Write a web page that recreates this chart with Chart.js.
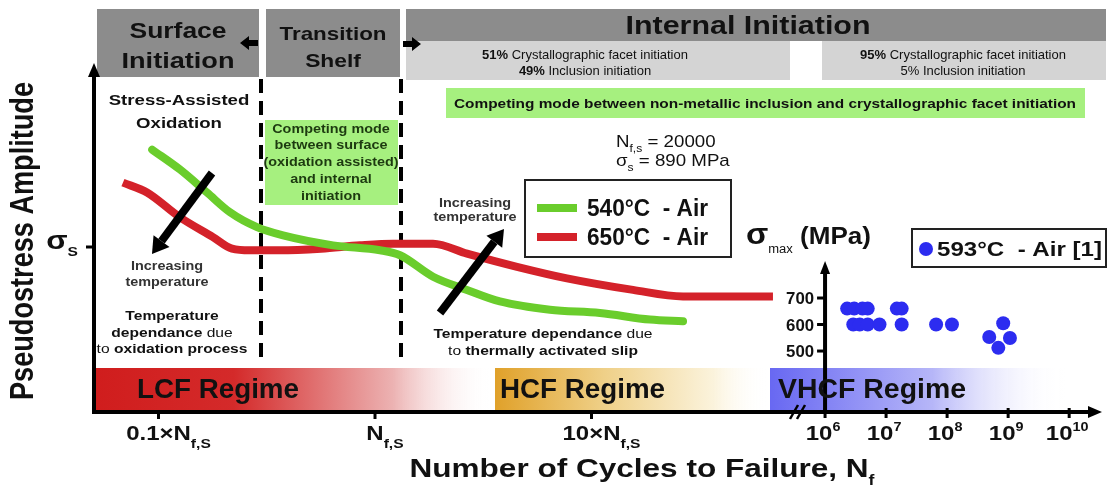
<!DOCTYPE html>
<html><head><meta charset="utf-8">
<script src="https://cdn.jsdelivr.net/npm/chart.js@4/dist/chart.umd.min.js"></script>
<style>html,body{margin:0;padding:0;background:#fff;overflow:hidden}</style>
</head><body>
<canvas id="c" width="1117" height="487"></canvas>
<script>
// ---------------- data ----------------
const NFS = 20000;        // N_f,s (cycles)
const SIGMA_S = 890;      // sigma_s (MPa)
// schematic pseudostress amplitude, normalised by sigma_s
const cycles540 = [1870, 2510, 3350, 4280, 5700, 7520, 12800, 21100, 26100, 37100, 53200, 75500, 128600, 218800, 372600, 529600];
const stress540 = [1.59, 1.47, 1.33, 1.21, 1.12, 1.07, 1.01, 0.98, 0.95, 0.82, 0.74, 0.67, 0.62, 0.60, 0.56, 0.55];
const cycles650 = [1370, 1770, 2510, 3570, 4370, 5300, 7280, 11270, 17050, 24220, 37080, 53220, 90570, 154100, 311000, 529600, 900500, 1378000];
const stress650 = [1.39, 1.33, 1.18, 1.06, 0.99, 0.98, 0.98, 0.99, 1.01, 1.02, 1.02, 0.96, 0.88, 0.81, 0.74, 0.70, 0.70, 0.70];
// 593 °C - Air [1]  (cycles, sigma_max MPa)
const cycles593 = [2.3e6, 3.0e6, 4.1e6, 5.0e6, 1.5e7, 1.8e7, 2.9e6, 3.7e6, 5.0e6, 7.8e6, 1.8e7, 6.6e7, 1.2e8, 8.3e8, 4.9e8, 6.9e8, 1.07e9];
const smax593   = [660, 660, 660, 660, 660, 660, 600, 600, 600, 600, 600, 600, 600, 605, 553, 512, 549];
// tick labels
const mainTickValues = [0.1 * NFS, NFS, 10 * NFS];
const mainTickLabels = ['0.1×N', 'N', '10×N'];
const insetTickExps = [6, 7, 8, 9, 10];
const insetYTicks = [500, 600, 700];
const seriesLabels = ['540°C  - Air', '650°C  - Air', '593°C  - Air [1]'];

// ---------------- helpers ----------------
const SX = 1.2;
const FF = '"Liberation Sans", Arial, sans-serif';
const B = s => 'bold ' + s + 'px ' + FF;
const R = s => s + 'px ' + FF;
function rich(ctx, runs, x, y, o = {}) {
  const align = o.align || 'center';
  ctx.save();
  ctx.fillStyle = o.color || '#111';
  ctx.textAlign = 'left'; ctx.textBaseline = 'alphabetic';
  const ws = runs.map(r => { ctx.font = r.f; return ctx.measureText(r.t).width; });
  const tot = ws.reduce((a, b) => a + b, 0);
  const k = o.w ? o.w / tot : (o.sx || SX);
  const start = align === 'center' ? x - tot * k / 2 : align === 'right' ? x - tot * k : x;
  ctx.translate(start, y); ctx.scale(k, 1);
  let cx = 0;
  runs.forEach((r, i) => { ctx.font = r.f; ctx.fillStyle = r.c || o.color || '#111'; ctx.fillText(r.t, cx, r.dy || 0); cx += ws[i]; });
  ctx.restore();
}
function txt(ctx, s, x, y, f, o = {}) { rich(ctx, [{ t: s, f }], x, y, o); }
function arrowLine(ctx, x1, y1, x2, y2, w, head) {
  const a = Math.atan2(y2 - y1, x2 - x1);
  const bx = x2 - head * Math.cos(a), by = y2 - head * Math.sin(a);
  ctx.save(); ctx.strokeStyle = '#000'; ctx.fillStyle = '#000'; ctx.lineWidth = w; ctx.lineCap = 'butt';
  ctx.beginPath(); ctx.moveTo(x1, y1); ctx.lineTo(bx, by); ctx.stroke();
  const hw = head * 0.62;
  ctx.beginPath(); ctx.moveTo(x2, y2);
  ctx.lineTo(bx + hw * Math.sin(a), by - hw * Math.cos(a));
  ctx.lineTo(bx - hw * Math.sin(a), by + hw * Math.cos(a));
  ctx.closePath(); ctx.fill(); ctx.restore();
}

// ---------------- background drawings ----------------
const bgPlugin = {
  id: 'bg',
  beforeDatasetsDraw(chart) {
    const ctx = chart.ctx;
    ctx.save();
    // header boxes
    ctx.fillStyle = '#8c8c8c';
    ctx.fillRect(97, 9, 162, 68);
    ctx.fillRect(266, 9, 134, 68);
    ctx.fillRect(406, 9, 700, 32);
    ctx.fillStyle = '#d4d4d4';
    ctx.fillRect(406, 41, 384, 39);
    ctx.fillRect(822, 41, 284, 39);
    // green boxes
    ctx.fillStyle = '#a6f07f';
    ctx.fillRect(446, 88, 639, 30);
    ctx.fillRect(265, 120, 133, 85);
    // regime bars
    const bars = [
      [95, 492, [[0, '#d01d1d'], [0.35, '#d42a2a'], [0.75, '#ecb2b2'], [1, 'rgba(255,255,255,0)']]],
      [495, 768, [[0, '#e0a12a'], [0.4, '#efd088'], [0.8, '#fbf3dc'], [1, 'rgba(255,255,255,0)']]],
      [770, 1065, [[0, '#6868f2'], [0.55, '#b6b6f8'], [1, 'rgba(255,255,255,0)']]]
    ];
    bars.forEach(([x0, x1, st]) => {
      const g = ctx.createLinearGradient(x0, 0, x1, 0);
      st.forEach(([p, c]) => g.addColorStop(p, c));
      ctx.fillStyle = g; ctx.fillRect(x0, 368, x1 - x0, 43);
    });
    // dashed dividers
    ctx.strokeStyle = '#000'; ctx.lineWidth = 4; ctx.setLineDash([14, 8]);
    [261, 401].forEach(x => { ctx.beginPath(); ctx.moveTo(x, 79); ctx.lineTo(x, 362); ctx.stroke(); });
    ctx.setLineDash([]);
    ctx.restore();
  }
};

// ---------------- foreground drawings ----------------
const fgPlugin = {
  id: 'fg',
  afterDatasetsDraw(chart) {
    const ctx = chart.ctx;
    const xs = chart.scales.x, xs2 = chart.scales.x2, ys = chart.scales.y, ys2 = chart.scales.y2;
    const ca = chart.chartArea;
    const x0 = ca.left, yb = ca.bottom;
    ctx.save();
    ctx.strokeStyle = '#000'; ctx.fillStyle = '#000';
    // main axes
    ctx.lineWidth = 4;
    ctx.beginPath(); ctx.moveTo(x0, yb); ctx.lineTo(x0, ca.top + 10); ctx.stroke();
    ctx.beginPath(); ctx.moveTo(x0 - 2, yb); ctx.lineTo(ca.right - 10, yb); ctx.stroke();
    ctx.beginPath(); ctx.moveTo(x0, ca.top - 2); ctx.lineTo(x0 - 6, ca.top + 12); ctx.lineTo(x0 + 6, ca.top + 12); ctx.closePath(); ctx.fill();
    ctx.beginPath(); ctx.moveTo(ca.right + 2, yb); ctx.lineTo(ca.right - 12, yb - 6); ctx.lineTo(ca.right - 12, yb + 6); ctx.closePath(); ctx.fill();
    // axis break
    ctx.lineWidth = 2.5;
    [794, 801].forEach(x => { ctx.beginPath(); ctx.moveTo(x - 4, yb + 7); ctx.lineTo(x + 4, yb - 7); ctx.stroke(); });
    // main x ticks & labels
    ctx.lineWidth = 3;
    mainTickValues.forEach((v, i) => {
      const px = xs.getPixelForValue(v);
      ctx.beginPath(); ctx.moveTo(px, yb); ctx.lineTo(px, yb + 7); ctx.stroke();
      ctx.save(); ctx.font = B(20);
      const w = ctx.measureText(mainTickLabels[i]).width * SX;
      ctx.restore();
      rich(ctx, [{ t: mainTickLabels[i], f: B(20) }, { t: 'f,S', f: B(13), dy: 8 }], px - w / 2, 440, { align: 'left' });
    });
    // inset x ticks & labels
    insetTickExps.forEach(e => {
      const px = xs2.getPixelForValue(Math.pow(10, e));
      ctx.beginPath(); ctx.moveTo(px, yb - 4); ctx.lineTo(px, yb + 6); ctx.stroke();
      rich(ctx, [{ t: '10', f: B(20) }, { t: String(e), f: B(12), dy: -9 }], px - 2, 440, { align: 'center' });
    });
    // sigma_s tick
    const ysS = ys.getPixelForValue(1.0);
    ctx.beginPath(); ctx.moveTo(x0 - 8, ysS); ctx.lineTo(x0, ysS); ctx.stroke();
    rich(ctx, [{ t: 'σ', f: B(26) }, { t: 'S', f: B(13), dy: 7 }], 62, ysS + 2, { align: 'center', sx: 1.2 });
    // inset y axis
    const xi = xs2.getPixelForValue(1e6);
    ctx.lineWidth = 4;
    ctx.beginPath(); ctx.moveTo(xi, yb); ctx.lineTo(xi, 272); ctx.stroke();
    ctx.beginPath(); ctx.moveTo(xi, 261); ctx.lineTo(xi - 5, 274); ctx.lineTo(xi + 5, 274); ctx.closePath(); ctx.fill();
    ctx.lineWidth = 3;
    insetYTicks.forEach(v => {
      const py = ys2.getPixelForValue(v);
      ctx.beginPath(); ctx.moveTo(xi - 8, py); ctx.lineTo(xi, py); ctx.stroke();
      txt(ctx, String(v), xi - 11, py + 6, B(16), { align: 'right', w: 28 });
    });
    rich(ctx, [{ t: 'σ', f: B(30) }, { t: 'max', f: R(12), dy: 9 }, { t: ' (MPa)', f: B(24) }], 746, 244, { align: 'left', w: 125 });
    // axis titles
    rich(ctx, [{ t: 'Number of Cycles to Failure, N', f: B(25) }, { t: 'f', f: B(14), dy: 8 }], 642, 477, { w: 465 });
    ctx.save(); ctx.translate(33, 241); ctx.rotate(-Math.PI / 2); ctx.scale(1, 1.2);
    ctx.font = B(27); ctx.fillStyle = '#111'; ctx.textAlign = 'center';
    const yw = ctx.measureText('Pseudostress Amplitude').width;
    ctx.scale(318 / yw, 1); ctx.fillText('Pseudostress Amplitude', 0, 0);
    ctx.restore();

    // header texts
    txt(ctx, 'Surface', 178, 38, B(22), { w: 97 });
    txt(ctx, 'Initiation', 178, 68, B(22), { w: 113 });
    txt(ctx, 'Transition', 333, 40, B(19), { w: 107 });
    txt(ctx, 'Shelf', 333, 67, B(19));
    txt(ctx, 'Internal Initiation', 748, 34, B(25), { w: 245 });
    // small header arrows
    ctx.lineWidth = 1;
    ctx.beginPath(); ctx.moveTo(240, 43); ctx.lineTo(249, 36); ctx.lineTo(249, 40); ctx.lineTo(258, 40); ctx.lineTo(258, 46); ctx.lineTo(249, 46); ctx.lineTo(249, 50); ctx.closePath(); ctx.fill();
    ctx.beginPath(); ctx.moveTo(421, 44); ctx.lineTo(412, 37); ctx.lineTo(412, 41); ctx.lineTo(403, 41); ctx.lineTo(403, 47); ctx.lineTo(412, 47); ctx.lineTo(412, 51); ctx.closePath(); ctx.fill();
    // sub boxes text
    rich(ctx, [{ t: '51%', f: B(13) }, { t: ' Crystallographic facet initiation', f: R(13) }], 585, 59, { sx: 1.0 });
    rich(ctx, [{ t: '49%', f: B(13) }, { t: ' Inclusion initiation', f: R(13) }], 585, 75, { sx: 1.0 });
    rich(ctx, [{ t: '95%', f: B(13) }, { t: ' Crystallographic facet initiation', f: R(13) }], 963, 59, { sx: 1.0 });
    rich(ctx, [{ t: '5%', f: R(13) }, { t: ' Inclusion initiation', f: R(13) }], 963, 75, { sx: 1.0 });
    txt(ctx, 'Competing mode between non-metallic inclusion and crystallographic facet initiation', 765, 108, B(13), { w: 622 });
    // transition green box text
    const gl = ['Competing mode', 'between surface', '(oxidation assisted)', 'and internal', 'initiation'];
    const gb = [133, 149, 166, 183, 200];
    gl.forEach((s, i) => txt(ctx, s, 331, gb[i], B(12), { color: '#1d3a10' }));
    // left annotations
    txt(ctx, 'Stress-Assisted', 179, 105, B(15.5));
    txt(ctx, 'Oxidation', 179, 128, B(15.5));
    txt(ctx, 'Increasing', 167, 270, B(12), { color: '#333' });
    txt(ctx, 'temperature', 167, 286, B(12), { color: '#333' });
    txt(ctx, 'Temperature', 172, 320, B(13));
    rich(ctx, [{ t: 'dependance', f: B(13) }, { t: ' due', f: R(13) }], 172, 337);
    rich(ctx, [{ t: 'to ', f: R(13) }, { t: 'oxidation process', f: B(13) }], 172, 353);
    // right annotations
    txt(ctx, 'Increasing', 475, 207, B(12), { color: '#333' });
    txt(ctx, 'temperature', 475, 221, B(12), { color: '#333' });
    rich(ctx, [{ t: 'Temperature dependance', f: B(13) }, { t: ' due', f: R(13) }], 543, 338);
    rich(ctx, [{ t: 'to ', f: R(13) }, { t: 'thermally activated slip', f: B(13) }], 543, 355);
    // N_f,s and sigma_s
    rich(ctx, [{ t: 'N', f: R(17) }, { t: 'f,s', f: R(11), dy: 5 }, { t: ' = ' + NFS, f: R(17) }], 616, 147, { align: 'left', sx: 1.1 });
    rich(ctx, [{ t: 'σ', f: R(17) }, { t: 's', f: R(11), dy: 5 }, { t: ' = ' + SIGMA_S + ' MPa', f: R(17) }], 616, 166, { align: 'left', sx: 1.1 });
    // regime labels
    txt(ctx, 'LCF Regime', 137, 398, B(27), { align: 'left', w: 162 });
    txt(ctx, 'HCF Regime', 500, 398, B(27), { align: 'left', w: 165 });
    txt(ctx, 'VHCF Regime', 778, 398, B(27), { align: 'left', w: 188 });
    // black arrows
    arrowLine(ctx, 212, 173, 152, 254, 8, 16);
    arrowLine(ctx, 440, 313, 504, 229, 8, 16);
    // main legend
    ctx.lineWidth = 2; ctx.strokeStyle = '#222';
    ctx.strokeRect(525, 180, 206, 77);
    const ds = chart.data.datasets;
    [[208, 0], [237, 1]].forEach(([y, i]) => {
      ctx.strokeStyle = ds[i].borderColor; ctx.lineWidth = 8; ctx.lineCap = 'butt';
      ctx.beginPath(); ctx.moveTo(537, y); ctx.lineTo(577, y); ctx.stroke();
      txt(ctx, seriesLabels[i], 587, y + 8, B(23), { align: 'left', w: 121 });
    });
    // inset legend
    ctx.lineWidth = 2; ctx.strokeStyle = '#222';
    ctx.strokeRect(912, 229, 194, 38);
    ctx.fillStyle = ds[2].backgroundColor;
    ctx.beginPath(); ctx.arc(926, 249, 7, 0, Math.PI * 2); ctx.fill();
    txt(ctx, seriesLabels[2], 937, 256, B(20), { align: 'left', w: 165 });
    ctx.restore();
  }
};

// ---------------- chart ----------------
const ctx = document.getElementById('c').getContext('2d');
new Chart(ctx, {
  type: 'line',
  data: {
    datasets: [
      { label: seriesLabels[0], data: cycles540.map((x, i) => ({ x, y: stress540[i] })), borderColor: '#6acd2c', borderWidth: 8, pointRadius: 0, cubicInterpolationMode: 'monotone', borderCapStyle: 'round', xAxisID: 'x', yAxisID: 'y' },
      { label: seriesLabels[1], data: cycles650.map((x, i) => ({ x, y: stress650[i] })), borderColor: '#d4222a', borderWidth: 8, pointRadius: 0, cubicInterpolationMode: 'monotone', borderCapStyle: 'butt', xAxisID: 'x', yAxisID: 'y' },
      { label: seriesLabels[2], data: cycles593.map((x, i) => ({ x, y: smax593[i] })), showLine: false, pointRadius: 7, pointBorderWidth: 0, backgroundColor: '#2c2cf0', borderColor: '#2c2cf0', xAxisID: 'x2', yAxisID: 'y2' }
    ]
  },
  options: {
    responsive: false, animation: false, events: [],
    layout: { padding: { left: 94, right: 17, top: 65, bottom: 75 } },
    plugins: { legend: { display: false }, tooltip: { enabled: false } },
    scales: {
      x: { type: 'logarithmic', display: false, min: 1007, max: 4.466e7 },
      x2: { type: 'logarithmic', display: false, min: 1.05e-6, max: 3.2e10 },
      y: { type: 'linear', display: false, min: 0, max: 2.103 },
      y2: { type: 'linear', display: false, min: 270, max: 1579 }
    }
  },
  plugins: [bgPlugin, fgPlugin]
});
</script>
</body></html>
